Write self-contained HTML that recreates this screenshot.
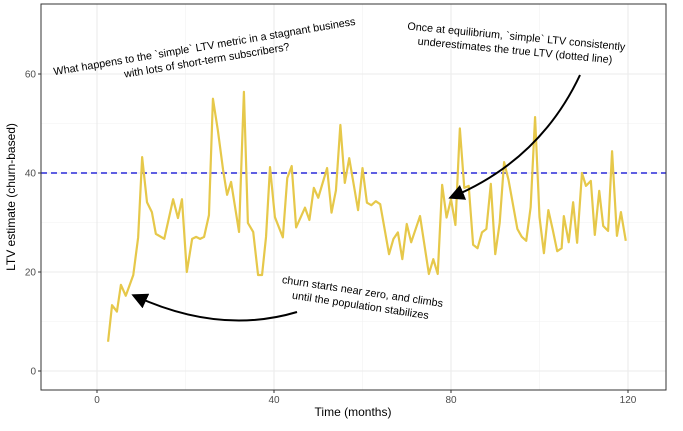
<!DOCTYPE html>
<html><head><meta charset="utf-8"><style>body{margin:0;background:#fff}svg{font-family:"Liberation Sans",sans-serif}</style></head>
<body>
<svg id="c" width="683" height="426"></svg>
<script>
const months=[2.5,3.4,4.5,5.4,6.5,8.2,9.3,10.2,11.3,12.4,13.3,15.2,17.2,18.3,19.2,20.3,21.5,22.4,23.3,24.2,25.3,26.2,27.3,28.5,29.4,30.3,32.1,33.2,34.1,35.3,36.4,37.3,38.2,39.1,40.2,42,43,44,45,47,48,49,50,52,53,54,55,56,57,59,60,61,62,63,64,66,67,68,69,70,71,73,75,76,77,78,79,80,81,82,83,84,85,86,87,88,89,90,91,92,93,95,96,97,98,99,100,101,102,103,104,105,105.5,106.6,107.6,108.5,109.6,110.5,111.6,112.5,113.5,114.4,115.5,116.4,117.5,118.4,119.5];
const ltv=[5.9,13.3,12,17.4,15.2,19.4,27,43.2,34.1,32.1,27.7,26.7,34.7,30.9,34.7,20,26.7,27.1,26.7,27.1,31.5,55,48.7,40.6,35.6,38.2,28.1,56.4,29.9,28.1,19.4,19.4,27.1,41.2,31.1,27,39,41.4,29,33,30.5,37,35,41,32,36.5,49.7,38,43,32.5,41,34,33.5,34.3,33.7,23.6,26.7,28,22.6,29.7,26,31.3,19.6,22.6,19.6,37.6,31,34.7,29.5,49,37,37.4,25.5,24.8,28,28.7,37.8,23.6,29.9,42.2,38.6,28.7,27.1,26.3,33.1,51.3,31.1,23.8,32.5,28.5,24.2,24.8,31.3,26,34.1,25.9,40,37.4,38.4,27.5,36.4,29.3,28.3,44.4,27.3,32.1,26.3];
const xTicks=[0,40,80,120];
const yTicks=[0,20,40,60];
const trueLTV=40;
const NS="http://www.w3.org/2000/svg",svg=document.getElementById('c');
const L=41,R=666,T=4,B=390;
const sx=m=>97+m*(628-97)/120, sy=v=>371-v*(371-74)/60;
function el(t,a,p){const e=document.createElementNS(NS,t);for(const k in a)e.setAttribute(k,a[k]);(p||svg).appendChild(e);return e;}
let g=el('g',{});
[20,60,100].forEach(m=>el('line',{x1:sx(m),x2:sx(m),y1:T,y2:B,stroke:'#f2f2f2','stroke-width':0.6},g));
[10,30,50].forEach(v=>el('line',{x1:L,x2:R,y1:sy(v),y2:sy(v),stroke:'#f2f2f2','stroke-width':0.6},g));
xTicks.forEach(m=>el('line',{x1:sx(m),x2:sx(m),y1:T,y2:B,stroke:'#ebebeb','stroke-width':1.1},g));
yTicks.forEach(v=>el('line',{x1:L,x2:R,y1:sy(v),y2:sy(v),stroke:'#ebebeb','stroke-width':1.1},g));
let hl=el('line',{x1:L,x2:R,y1:sy(trueLTV),y2:sy(trueLTV),stroke:'#2a2ad8','stroke-width':1.4,'stroke-dasharray':'6,4'});

let ln=el('polyline',{points:months.map((m,i)=>sx(m)+','+sy(ltv[i])).join(' '),fill:'none',stroke:'#e6c84a','stroke-width':2.2,'stroke-linejoin':'round'});

let fr=el('rect',{x:L,y:T,width:R-L,height:B-T,fill:'none',stroke:'#333','stroke-width':1});

xTicks.forEach(m=>{el('line',{x1:sx(m),x2:sx(m),y1:B,y2:B+3,stroke:'#333'});let t=el('text',{x:sx(m),y:B+13,'text-anchor':'middle','font-size':10,fill:'#4d4d4d'});t.textContent=m;});
yTicks.forEach(v=>{el('line',{x1:L-3,x2:L,y1:sy(v),y2:sy(v),stroke:'#333'});let t=el('text',{x:L-5,y:sy(v)+3.5,'text-anchor':'end','font-size':10,fill:'#4d4d4d'});t.textContent=v;});
let xt=el('text',{x:353,y:416,'text-anchor':'middle','font-size':12});xt.textContent='Time (months)';
let yt=el('text',{x:15,y:197,'text-anchor':'middle','font-size':12,transform:'rotate(-90 15 197)'});yt.textContent='LTV estimate (churn-based)';
el('defs',{}).innerHTML='<marker id="ah" markerWidth="8" markerHeight="8" refX="6" refY="4" orient="auto"><path d="M0,0 L8,4 L0,8 Z" fill="#000"/></marker>';
function note(lines,cx,cy,rot,name){const t=el('text',{'text-anchor':'middle','font-size':10.8,transform:`rotate(${rot} ${cx} ${cy})`});lines.forEach((s,i)=>{const ts=el('tspan',{x:cx,y:cy+i*14},t);ts.textContent=s;});}
note(['What happens to the `simple` LTV metric in a stagnant business','with lots of short-term subscribers?'],205,50,-9.5,'annotation-question');
note(['Once at equilibrium, `simple` LTV consistently','underestimates the true LTV (dotted line)'],516,40,5.5,'annotation-equilibrium');
note(['churn starts near zero, and climbs','until the population stabilizes'],362,295,8.5,'annotation-churn');
let a1=el('path',{d:'M580,75 Q540,160 452,197',fill:'none',stroke:'#000','stroke-width':2,'marker-end':'url(#ah)'});
let a2=el('path',{d:'M297,312 Q220,335 135,296',fill:'none',stroke:'#000','stroke-width':2,'marker-end':'url(#ah)'});
</script>
</body></html>
